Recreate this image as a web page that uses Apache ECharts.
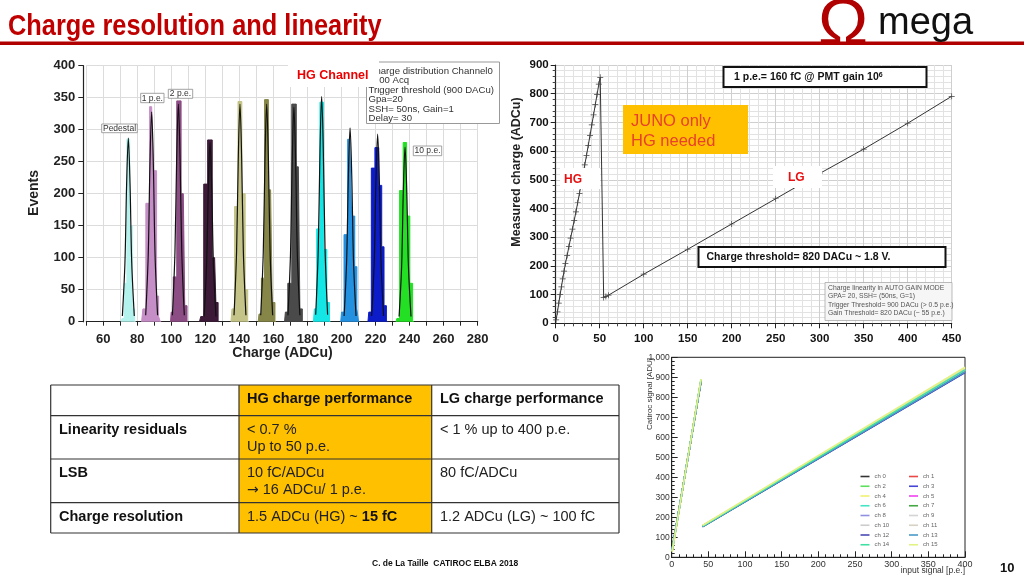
<!DOCTYPE html>
<html><head><meta charset="utf-8">
<script src="https://cdn.jsdelivr.net/npm/echarts@6/dist/echarts.min.js"></script>
<style>html,body{margin:0;padding:0;background:#fff}#c{width:1024px;height:576px}</style>
</head><body><div id="c"></div>
<script>
// ---------- Left: HG charge distribution ----------
const histNames = ['Pedestal','1 p.e.','2 p.e.','3 p.e.','4 p.e.','5 p.e.','6 p.e.','7 p.e.','8 p.e.','9 p.e.','10 p.e.'];
const histColors = ['#b4f2ee','#c68ec6','#8c4c84','#3c1a38','#c4c488','#868648','#4a4a4a','#14e6e6','#2490e0','#0c1cc8','#24e024'];
const histBins = [
  [[70.5,0],[71.5,5],[73,60],[74.7,285],[76.3,150],[77.8,20],[79,0]],
  [[82.5,0],[84,20],[86,185],[88.4,336],[90.6,236],[92,40],[93,8],[94,0]],
  [[99.5,0],[100.3,15],[101.9,70],[104.4,345],[107,200],[108.7,25],[109.7,0]],
  [[116.5,0],[118,8],[120,215],[122.6,284],[125.4,100],[126.9,30],[128,0]],
  [[135,0],[136.2,20],[138,180],[140.3,344],[142.5,200],[144.2,50],[145.5,0]],
  [[151,0],[152,12],[153.8,68],[155.7,347],[158.3,206],[160.2,30],[161.5,0]],
  [[166.5,0],[167.5,15],[169.3,60],[172.2,340],[174.6,242],[176.4,20],[177.5,0]],
  [[183.5,0],[184.5,20],[186.3,145],[188.3,343],[190.4,113],[192.3,30],[193.5,0]],
  [[199.5,0],[200.5,15],[202.4,136],[204.8,285],[207,165],[208.5,86],[209.5,20],[210.5,0]],
  [[215.5,0],[216.5,15],[218.5,240],[220.7,272],[223,213],[224.2,117],[225.7,25],[227,0]],
  [[232,0],[233,5],[235.2,205],[237.2,280],[239.2,165],[241,60],[242.5,0]]
];
const fitCurves = [
  [[71.2,9],[72.7,92],[73.7,215],[74.7,287],[75.7,215],[76.7,92],[78.2,9]],
  [[84.9,10],[86.4,105],[87.4,246],[88.4,328],[89.4,246],[90.4,105],[91.9,10]],
  [[100.6,10],[102.1,109],[103.1,255],[104.1,340],[105.1,255],[106.1,109],[107.6,10]],
  [[119.2,8],[120.7,90],[121.7,210],[122.7,280],[123.7,210],[124.7,90],[126.2,8]],
  [[136.8,10],[138.3,109],[139.3,255],[140.3,340],[141.3,255],[142.3,109],[143.8,10]],
  [[152.5,10],[154,109],[155,255],[156,340],[157,255],[158,109],[159.5,10]],
  [[168.5,10],[170,107],[171,251],[172,335],[173,251],[174,107],[175.5,10]],
  [[184.8,11],[186.3,113],[187.3,264],[188.3,352],[189.3,264],[190.3,113],[191.8,11]],
  [[201.5,9],[203,97],[204,227],[205,303],[206,227],[207,97],[208.5,9]],
  [[217.7,9],[219.2,94],[220.2,220],[221.2,293],[222.2,220],[223.2,94],[224.7,9]],
  [[233.8,8],[235.3,87],[236.3,205],[237.3,273],[238.3,205],[239.3,87],[240.8,8]]
];
const histStats = ['Charge distribution Channel0','1000 Acq','Trigger threshold (900 DACu)','Gpa=20','SSH= 50ns, Gain=1','Delay= 30'];

// ---------- Top right: auto gain mode linearity ----------
const agmPoints = [[0.5,12],[2,40],[3.5,70],[5,100],[6.5,127],[8,155],[9.5,182],[11,208],[13,236],[15,267],[17,297],[19,328],[21,358],[23,388],[25,420],[27,453],[29,486],[31,519],[33,552],[35,585],[37,620],[39,655],[41,691],[43,726],[45,762],[47,797],[49,833],[50.6,857],
  [54.5,90],[57,93],[60,98],[100,171],[150,258],[200,346],[250,434],[300,522],[350,607],[400,697],[450,791]];
const agmStats = ['Charge linearity in AUTO GAIN MODE','GPA= 20, SSH= (50ns, G=1)','Trigger Threshold= 900 DACu (> 0.5 p.e.)','Gain Threshold= 820 DACu (~ 55 p.e.)'];

// ---------- Bottom right: 16 channels ----------
const chNames = ['ch 0','ch 1','ch 2','ch 3','ch 4','ch 5','ch 6','ch 7','ch 8','ch 9','ch 10','ch 11','ch 12','ch 13','ch 14','ch 15'];
const chColors = ['#333333','#e84848','#5ee05e','#4646d6','#f2f070','#f040f0','#44e4c4','#44a844','#9090e0','#d4d4d4','#cccccc','#d8d2c4','#4a4ab4','#4a9ac8','#40e0a4','#e2f284'];
const chHgStart = [34,36,30,38,28,33,35,37,39,32,31,36,40,38,33,29];
const chHgEnd   = [884,883,888,881,890,886,887,882,880,885,886,884,879,881,887,891];
const chLgStart = [156,157,155,154,158,156,155,156,154,157,157,158,153,154,155,159];
const chLgEnd   = [930,932,934,924,946,933,935,931,927,936,938,940,925,927,937,950];

const FF = 'Liberation Sans, Arial, Helvetica, sans-serif';
const chart = echarts.init(document.getElementById('c'), null, {renderer:'canvas'});

const series = [];
histBins.forEach((d,i)=>{
  series.push({type:'line', name:histNames[i], xAxisIndex:0, yAxisIndex:0, data:d, step:'middle', symbol:'none',
    lineStyle:{color:histColors[i], width:1}, areaStyle:{color:histColors[i], opacity:1}, z:2, silent:true});
});
fitCurves.forEach((d,i)=>{
  series.push({type:'line', name:'fit '+histNames[i], xAxisIndex:0, yAxisIndex:0, data:d, smooth:0.35, symbol:'none',
    lineStyle:{color:'#111', width:1.2}, z:3, silent:true});
});
series.push({type:'line', name:'AGM', xAxisIndex:1, yAxisIndex:1, data:agmPoints, symbol:'path://M0,4.4L10,4.4L10,5.6L0,5.6Z M4.4,0L5.6,0L5.6,10L4.4,10Z',
  symbolSize:[6,6], showSymbol:true, itemStyle:{color:'#444'}, lineStyle:{color:'#333', width:1}, z:3, silent:true});
chNames.forEach((n,i)=>{
  series.push({type:'line', name:n, xAxisIndex:2, yAxisIndex:2,
    data:[[0.6,chHgStart[i]],[40,chHgEnd[i]],'-',[42,chLgStart[i]],[400,chLgEnd[i]]],
    symbol:'none', connectNulls:false, lineStyle:{color:chColors[i], width:1.6}, itemStyle:{color:chColors[i]}, z:2, silent:true});
});

const gridLine = {show:true, lineStyle:{color:'#dcdcdc', width:1}};
const G = [];
function T(x,y,text,font,fill,align,va,extra){
  return Object.assign({type:'text', x:x, y:y, z:20, style:{text:text, font:font, fill:fill||'#000', align:align||'left', textAlign:align||'left', verticalAlign:va||'middle', textVerticalAlign:va||'middle'}}, extra||{});
}
function R(x,y,w,h,fill,stroke,lw,z){ return {type:'rect', z:z||15, shape:{x:x,y:y,width:w,height:h}, style:{fill:fill||'none', stroke:stroke||null, lineWidth:lw||1}}; }
function L(x1,y1,x2,y2,stroke,lw,z){ return {type:'line', z:z||16, shape:{x1:x1,y1:y1,x2:x2,y2:y2}, style:{stroke:stroke, lineWidth:lw||1}}; }

// Title & header
G.push(T(8,27,'Charge resolution and linearity','bold 29px '+FF,'#c00000','left','middle',{scaleX:0.875, scaleY:1}));
G.push(R(0,41.5,1024,3.6,'#b00000',null,1,14));
G.push(T(843,58,'\u03A9','64px '+FF,'#b00000','center','bottom',{z:13, scaleX:1.05}));
G.push(T(878,24,'mega','38px '+FF,'#111','left','middle'));

// Left chart annotations
histStats.forEach((s,i)=>{ G.push(T(368.5,[71,80.7,90,99.3,109,118.3][i],s,'9.6px '+FF,'#333','left','middle',{z:22})); });
G.push(R(366.5,62,133,61.5,'#fff','#999',1,21));
G.push(R(288,56,91,31,'#fff',null,1,23));
G.push(T(297,76,'HG Channel','bold 12.5px '+FF,'#ee0000','left','middle',{z:24}));
[[101.7,124,35.6,8.7,'Pedestal'],[140.7,93.3,23.3,9.4,'1 p.e.'],[168.3,89.3,24.4,9,'2 p.e.'],[413.3,146,28.4,9.7,'10 p.e.']].forEach(b=>{
  G.push(R(b[0],b[1],b[2],b[3],'#fff','#8a8a8a',0.8,21));
  G.push(T(b[0]+b[2]/2,b[1]+b[3]/2+0.3,b[4],'8.5px '+FF,'#333','center','middle',{z:22}));
});
G.push(T(34,193,'Events','bold 14px '+FF,'#222','center','middle',{rotation:Math.PI/2}));
G.push(T(282.5,353,'Charge (ADCu)','bold 14px '+FF,'#222','center','middle'));

// Top right annotations
G.push(T(517,172,'Measured charge (ADCu)','bold 12.5px '+FF,'#222','center','middle',{rotation:Math.PI/2}));
G.push(R(723.5,67,203,20,'#fff','#111',2,21));
G.push({type:'text', x:734, y:77.5, z:22, style:{text:'1 p.e.= 160 fC @ PMT gain 10{s|6}', font:'bold 10.5px '+FF, fill:'#111', align:'left', textAlign:'left', verticalAlign:'middle', textVerticalAlign:'middle',
  rich:{s:{font:'bold 7px '+FF, fill:'#111', verticalAlign:'top', lineHeight:8}}}});
G.push(R(623,105,125,49,'#ffc000',null,1,21));
G.push(T(631,121,'JUNO only','16.5px '+FF,'#e8402a','left','middle',{z:22}));
G.push(T(631,141,'HG needed','16.5px '+FF,'#e8402a','left','middle',{z:22}));
G.push(R(560,168,40,21,'#fff',null,1,21));
G.push(T(564,180,'HG','bold 12px '+FF,'#e81010','left','middle',{z:22}));
G.push(R(773,166,49,22,'#fff',null,1,21));
G.push(T(788,177.5,'LG','bold 12px '+FF,'#e81010','left','middle',{z:22}));
G.push(R(698.5,247,247,20,'#fff','#111',2,21));
G.push(T(706.5,257.5,'Charge threshold= 820 DACu ~ 1.8 V.','bold 10.5px '+FF,'#111','left','middle',{z:22}));
G.push(R(825,282.5,127,38,'#f6f6f6','#aaa',0.8,21));
agmStats.forEach((s,i)=>{ G.push(T(828,[287.8,296.3,304.8,313.3][i],s,'6.8px '+FF,'#555','left','middle',{z:22})); });

// Bottom right axis names
G.push(T(650,394,'Catiroc signal [ADU]','8px '+FF,'#333','center','middle',{rotation:Math.PI/2}));
G.push(T(965,571,'input signal [p.e.]','8.5px '+FF,'#333','right','middle'));

// Table
const tL=50.7, tC1=239, tC2=431.7, tR=619, rows=[385,415.7,459,502.7,533];
G.push(R(tC1,rows[0],tC2-tC1,rows[4]-rows[0],'#ffc000',null,1,10));
rows.forEach(y=>G.push(L(tL,y,tR,y,'#333',1.2,11)));
[tL,tC1,tC2,tR].forEach(x=>G.push(L(x,rows[0],x,rows[4],'#333',1.2,11)));
const TB='bold 14.5px '+FF, TN='14.5px '+FF;
G.push(T(247,399,'HG charge performance',TB,'#111'));
G.push(T(440,399,'LG charge performance',TB,'#111'));
G.push(T(59,429.5,'Linearity residuals',TB,'#111'));
G.push(T(59,472.5,'LSB',TB,'#111'));
G.push(T(59,516.5,'Charge resolution',TB,'#111'));
G.push(T(247,429.5,'< 0.7 %',TN,'#222'));
G.push(T(247,447,'Up to 50 p.e.',TN,'#222'));
G.push(T(247,472.5,'10 fC/ADCu',TN,'#222'));
G.push({type:'text', x:247, y:490, z:20, style:{text:'{a|\u2192} 16 ADCu/ 1 p.e.', font:TN, fill:'#222', align:'left', textAlign:'left', verticalAlign:'middle', textVerticalAlign:'middle', rich:{a:{font:'14px "DejaVu Sans", sans-serif', fill:'#222'}}}});
G.push({type:'text', x:247, y:516.5, z:20, style:{text:'1.5 ADCu (HG) ~ {b|15 fC}', font:TN, fill:'#222', align:'left', textAlign:'left', verticalAlign:'middle', textVerticalAlign:'middle', rich:{b:{font:TB, fill:'#111'}}}});
G.push(T(440,429.5,'< 1 % up to 400 p.e.',TN,'#222'));
G.push(T(440,472.5,'80 fC/ADCu',TN,'#222'));
G.push(T(440,516.5,'1.2 ADCu (LG) ~ 100 fC',TN,'#222'));

// Footer
G.push(T(372,563.5,'C. de La Taille  CATIROC ELBA 2018','bold 8.5px '+FF,'#111'));
G.push(T(1000,568,'10','bold 13px '+FF,'#111'));

const evenNames = chNames.filter((n,i)=>i%2===0), oddNames = chNames.filter((n,i)=>i%2===1);
const legendBase = {orient:'vertical', top:473.5, padding:0, itemWidth:9, itemHeight:1.6, itemGap:3.75, selectedMode:false, icon:'rect',
  textStyle:{fontSize:6, lineHeight:6, color:'#666', fontFamily:FF}};

chart.setOption({
  animation:false,
  backgroundColor:'#fff',
  grid:[
    {left:86.3, right:546.3, top:65.7, bottom:254.3},
    {left:555.7, right:72.3, top:65, bottom:252.7},
    {left:671.7, right:59, top:357.3, bottom:18.7, show:true, borderColor:'#222', borderWidth:1, backgroundColor:'transparent'}
  ],
  xAxis:[
    {gridIndex:0, type:'value', min:50, max:280, interval:10, offset:3,
      axisLine:{show:true, lineStyle:{color:'#222', width:1.2}}, axisTick:{show:true, length:4, lineStyle:{color:'#222'}},
      axisLabel:{margin:8, color:'#222', fontWeight:'bold', fontSize:13, fontFamily:FF, formatter:v=>(v>=60 && v%20===0)?String(v):''},
      splitLine:gridLine},
    {gridIndex:1, type:'value', min:0, max:450, interval:50,
      axisLine:{show:true, lineStyle:{color:'#222', width:1.2}}, axisTick:{show:true, length:5, lineStyle:{color:'#222'}},
      minorTick:{show:true, splitNumber:5, length:3, lineStyle:{color:'#444'}},
      axisLabel:{margin:10, color:'#111', fontWeight:'bold', fontSize:11.5, fontFamily:FF},
      splitLine:{show:true, lineStyle:{color:'#cfcfcf'}}, minorSplitLine:{show:true, lineStyle:{color:'#e2e2e2'}}},
    {gridIndex:2, type:'value', min:0, max:400, interval:50,
      axisLine:{show:true, lineStyle:{color:'#222', width:1}}, axisTick:{show:true, inside:true, length:6, lineStyle:{color:'#222'}},
      minorTick:{show:true, splitNumber:5, length:3, lineStyle:{color:'#222'}},
      axisLabel:{margin:3, color:'#333', fontSize:9, fontFamily:FF},
      splitLine:{show:false}}
  ],
  yAxis:[
    {gridIndex:0, type:'value', min:0, max:400, interval:50, offset:3,
      axisLine:{show:true, lineStyle:{color:'#222', width:1.2}}, axisTick:{show:true, length:5, lineStyle:{color:'#222'}},
      axisLabel:{margin:8, color:'#222', fontWeight:'bold', fontSize:13, fontFamily:FF},
      splitLine:gridLine},
    {gridIndex:1, type:'value', min:0, max:900, interval:100,
      axisLine:{show:true, lineStyle:{color:'#222', width:1.2}}, axisTick:{show:true, length:5, lineStyle:{color:'#222'}},
      minorTick:{show:true, splitNumber:5, length:3, lineStyle:{color:'#444'}},
      axisLabel:{margin:7, color:'#111', fontWeight:'bold', fontSize:11.5, fontFamily:FF},
      splitLine:{show:true, lineStyle:{color:'#cfcfcf'}}, minorSplitLine:{show:true, lineStyle:{color:'#e2e2e2'}}},
    {gridIndex:2, type:'value', min:0, max:1000, interval:100,
      axisLine:{show:true, lineStyle:{color:'#222', width:1}}, axisTick:{show:true, inside:true, length:6, lineStyle:{color:'#222'}},
      minorTick:{show:true, splitNumber:5, length:3, lineStyle:{color:'#222'}},
      axisLabel:{margin:2, color:'#333', fontSize:8.5, fontFamily:FF},
      splitLine:{show:false}}
  ],
  legend:[
    Object.assign({}, legendBase, {left:860.5, data:evenNames}),
    Object.assign({}, legendBase, {left:909, data:oddNames})
  ],
  graphic:{elements:G},
  series:series
});
</script></body></html>
